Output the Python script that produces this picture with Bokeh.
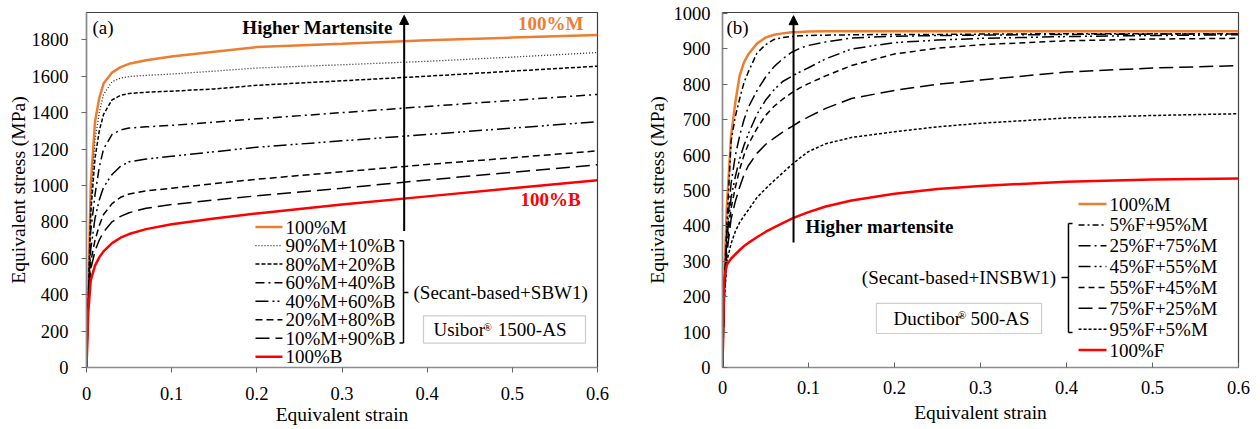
from bokeh.plotting import figure
from bokeh.layouts import row
from bokeh.models import Arrow, NormalHead, Label, BoxAnnotation, FixedTicker
from bokeh.embed import file_html
from bokeh.resources import INLINE

FONT = "Liberation Serif"
ORANGE = "#ED7D31"
RED = "#FF0000"

# ---------------- data: panel (a) Usibor 1500-AS ----------------
strain_a = [0, 0.002, 0.005, 0.01, 0.015, 0.02, 0.03, 0.04, 0.05, 0.07, 0.1, 0.15, 0.2, 0.3, 0.4, 0.5, 0.6]
m100_a = [0, 400, 1000, 1350, 1480, 1560, 1620, 1650, 1668, 1688, 1708, 1735, 1760, 1778, 1798, 1812, 1826]
m90_a = [0, 380, 900, 1250, 1400, 1500, 1570, 1590, 1598, 1605, 1612, 1628, 1645, 1663, 1682, 1705, 1730]
m80_a = [0, 370, 850, 1150, 1300, 1390, 1470, 1495, 1505, 1512, 1518, 1530, 1550, 1575, 1600, 1628, 1655]
m60_a = [0, 350, 750, 950, 1100, 1200, 1280, 1305, 1315, 1322, 1330, 1348, 1366, 1400, 1434, 1467, 1500]
m40_a = [0, 330, 650, 820, 920, 990, 1060, 1105, 1130, 1145, 1160, 1185, 1210, 1245, 1280, 1315, 1350]
m20_a = [0, 320, 580, 700, 780, 840, 900, 935, 953, 970, 985, 1010, 1034, 1075, 1115, 1152, 1190]
m10_a = [0, 310, 540, 640, 700, 745, 800, 830, 850, 875, 895, 920, 943, 985, 1030, 1072, 1114]
b100_a = [0, 300, 480, 560, 605, 638, 683, 713, 733, 760, 787, 818, 846, 895, 940, 985, 1028]
labels_a = ["100%M", "90%M+10%B", "80%M+20%B", "60%M+40%B", "40%M+60%B", "20%M+80%B", "10%M+90%B", "100%B"]

# ---------------- data: panel (b) Ductibor 500-AS ----------------
strain_b = [0, 0.002, 0.005, 0.01, 0.015, 0.02, 0.025, 0.03, 0.04, 0.05, 0.06, 0.07, 0.08, 0.09,
            0.1, 0.12, 0.15, 0.2, 0.25, 0.3, 0.4, 0.5, 0.6]
m100_b = [0, 250, 450, 655, 750, 825, 862, 885, 915, 932, 940, 944, 947, 948,
          949, 950, 950, 950, 950, 950, 950, 950, 950]
f5_b = [0, 230, 400, 640, 710, 760, 805, 835, 888, 912, 927, 932, 935, 937,
        938, 939, 940, 941, 941, 942, 943, 943, 943]
f25_b = [0, 220, 380, 520, 600, 655, 700, 735, 782, 820, 850, 872, 890, 902,
         910, 920, 931, 936, 938, 939, 941, 942, 942]
f45_b = [0, 210, 360, 480, 540, 590, 628, 660, 715, 755, 785, 808, 822, 835,
         847, 872, 900, 918, 925, 930, 935, 938, 940]
f55_b = [0, 200, 340, 450, 510, 560, 600, 630, 675, 712, 738, 758, 775, 790,
         802, 824, 853, 886, 902, 912, 923, 928, 930]
f75_b = [0, 190, 320, 420, 470, 510, 545, 570, 605, 630, 648, 665, 680, 695,
         708, 732, 760, 783, 800, 812, 835, 846, 853]
f95_b = [0, 180, 300, 350, 385, 410, 428, 445, 480, 505, 528, 550, 572, 592,
         610, 632, 650, 666, 680, 690, 705, 712, 717]
f100_b = [0, 250, 290, 308, 320, 332, 343, 352, 368, 383, 396, 408, 420, 430,
          439, 455, 472, 491, 504, 513, 525, 531, 534]
labels_b = ["100%M", "5%F+95%M", "25%F+75%M", "45%F+55%M", "55%F+45%M", "75%F+25%M", "95%F+5%M", "100%F"]

x_ticks = [0, 0.1, 0.2, 0.3, 0.4, 0.5, 0.6]
x_tick_labels = {0: "0", 0.1: "0.1", 0.2: "0.2", 0.3: "0.3", 0.4: "0.4", 0.5: "0.5", 0.6: "0.6"}
y_ticks_a = list(range(0, 1801, 200))
y_ticks_b = list(range(0, 1001, 100))


def make_fig(width, ymax, yticks, bl, br, bt, bb, ticks_inside, xstand, xlab, ystand, ylab):
    p = figure(width=width, height=429, x_range=(0, 0.6), y_range=(0, ymax),
               output_backend="svg", toolbar_location=None,
               min_border_left=bl, min_border_right=br, min_border_top=bt, min_border_bottom=bb)
    p.xgrid.visible = False
    p.ygrid.visible = False
    p.outline_line_color = "#404040"
    p.outline_line_width = 1.2
    p.background_fill_color = "white"
    p.border_fill_color = "white"
    p.xaxis.ticker = FixedTicker(ticks=x_ticks)
    p.xaxis.major_label_overrides = x_tick_labels
    p.yaxis.ticker = FixedTicker(ticks=yticks)
    p.axis.axis_line_color = "#8c8c8c"
    p.axis.axis_line_width = 1.5
    p.axis.major_tick_line_color = "#666666"
    p.axis.minor_tick_line_color = None
    p.axis.major_tick_in = 5 if ticks_inside else 0
    p.axis.major_tick_out = 0 if ticks_inside else 5
    p.axis.major_label_text_font = FONT
    p.axis.major_label_text_font_size = "18.5px"
    p.axis.major_label_text_color = "black"
    p.axis.axis_label_text_font = FONT
    p.axis.axis_label_text_font_size = "19.5px"
    p.axis.axis_label_text_font_style = "normal"
    p.axis.axis_label_text_color = "black"
    p.xaxis.major_label_standoff = xstand
    p.xaxis.axis_label_standoff = xlab
    p.yaxis.major_label_standoff = ystand
    p.yaxis.axis_label_standoff = ylab
    p.xaxis.axis_label = "Equivalent strain"
    p.yaxis.axis_label = "Equivalent stress (MPa)"
    return p


def label(p, x, y, text, size="19px", color="black", style="normal", align="left"):
    p.add_layout(Label(x=x, y=y, text=text, text_font=FONT, text_font_size=size,
                       text_color=color, text_font_style=style, text_align=align,
                       text_baseline="middle"))


def key_rows(p, styles, labels, x0, x1, xt, y_first, y_step):
    # legend rows: a short sample of each line style followed by its label
    for i, ((_, c, w, d), l) in enumerate(zip(styles, labels)):
        yy = y_first - y_step * i
        p.line([x0, x1], [yy, yy], line_color=c, line_width=w, line_dash=d)
        label(p, xt, yy, l)


# ---------------- panel (a) ----------------
pa = make_fig(630, 1950, y_ticks_a, 86, 33, 9, 56, False, 14, 1, 13, 0)
styles_a = [
    (m100_a, ORANGE, 2.5, "solid"),
    (m90_a, "#222222", 1.3, "1 2"),
    (m80_a, "black", 1.5, "4 2"),
    (m60_a, "black", 1.5, "9 4 2 4"),
    (m40_a, "black", 1.5, "13 4 2 3 2 4"),
    (m20_a, "black", 1.5, "7 4"),
    (m10_a, "black", 1.5, "14 6"),
    (b100_a, RED, 2.5, "solid"),
]
for ys, c, w, d in styles_a:
    pa.line(strain_a, ys, line_color=c, line_width=w, line_dash=d)
# rows 19 px apart: 19 / (364 / 1950) MPa
key_rows(pa, styles_a, labels_a, 0.1984, 0.2301, 0.2337, (373 - 229) * 1950 / 364, 19 * 1950 / 364)

pa.add_layout(Arrow(end=NormalHead(size=9, fill_color="black", line_color="black"),
                    x_start=0.373, y_start=750, x_end=0.373, y_end=1934,
                    line_width=2, line_color="black"))
label(pa, 0.007, 1870, "(a)")
label(pa, 0.183, 1870, "Higher Martensite", style="bold")
label(pa, 0.545, 1891, "100%M", color=ORANGE, style="bold", align="center")
label(pa, 0.545, 921, "100%B", color=RED, style="bold", align="center")
# bracket
pa.segment(x0=[0.3722, 0.3675, 0.3675, 0.3722], y0=[134, 696, 134, 412],
           x1=[0.3722, 0.3722, 0.3722, 0.3780], y1=[696, 696, 134, 412],
           line_color="black", line_width=1.5)
label(pa, 0.384, 412, "(Secant-based+SBW1)")
pa.add_layout(BoxAnnotation(left=0.3957, right=0.5859, bottom=134, top=284,
                            fill_alpha=0, line_color="#595959", line_width=1.2))
label(pa, 0.4074, 209, "Usibor")
label(pa, 0.4660, 221, "®", size="11px")
label(pa, 0.4830, 209, "1500-AS")

# ---------------- panel (b) ----------------
pb = make_fig(630, 1003, y_ticks_b, 92, 22, 12, 62, True, 13, 5, 12, 3)
styles_b = [
    (m100_b, ORANGE, 2.5, "solid"),
    (f5_b, "black", 1.5, "6 3 2 3"),
    (f25_b, "black", 1.5, "12 4 2 4"),
    (f45_b, "black", 1.5, "12 4 2 3 2 4"),
    (f55_b, "black", 1.5, "6 4"),
    (f75_b, "black", 1.5, "14 6"),
    (f95_b, "black", 1.5, "3 2"),
    (f100_b, RED, 2.5, "solid"),
]
for ys, c, w, d in styles_b:
    pb.line(strain_b, ys, line_color=c, line_width=w, line_dash=d)
key_rows(pb, styles_b, labels_b, 0.414, 0.4465, 0.450, (367 - 204) * 1003 / 354, 20.8 * 1003 / 354)

pb.add_layout(Arrow(end=NormalHead(size=9, fill_color="black", line_color="black"),
                    x_start=0.0826, y_start=353, x_end=0.0826, y_end=994,
                    line_width=2, line_color="black"))
label(pb, 0.0047, 960, "(b)")
label(pb, 0.0965, 398, "Higher martensite", style="bold")
pb.segment(x0=[0.4023, 0.4023, 0.4023, 0.3942], y0=[99, 407, 99, 254],
           x1=[0.4023, 0.4070, 0.4070, 0.4023], y1=[407, 407, 99, 254],
           line_color="black", line_width=1.5)
label(pb, 0.3880, 254, "(Secant-based+INSBW1)", align="right")
pb.add_layout(BoxAnnotation(left=0.179, right=0.371, bottom=96, top=181,
                            fill_alpha=0, line_color="#595959", line_width=1.2))
label(pb, 0.1988, 138, "Ductibor")
label(pb, 0.2738, 149, "®", size="11px")
label(pb, 0.2884, 138, "500-AS")

layout = row(pa, pb)
open("out.html", "w").write(file_html(layout, INLINE))
